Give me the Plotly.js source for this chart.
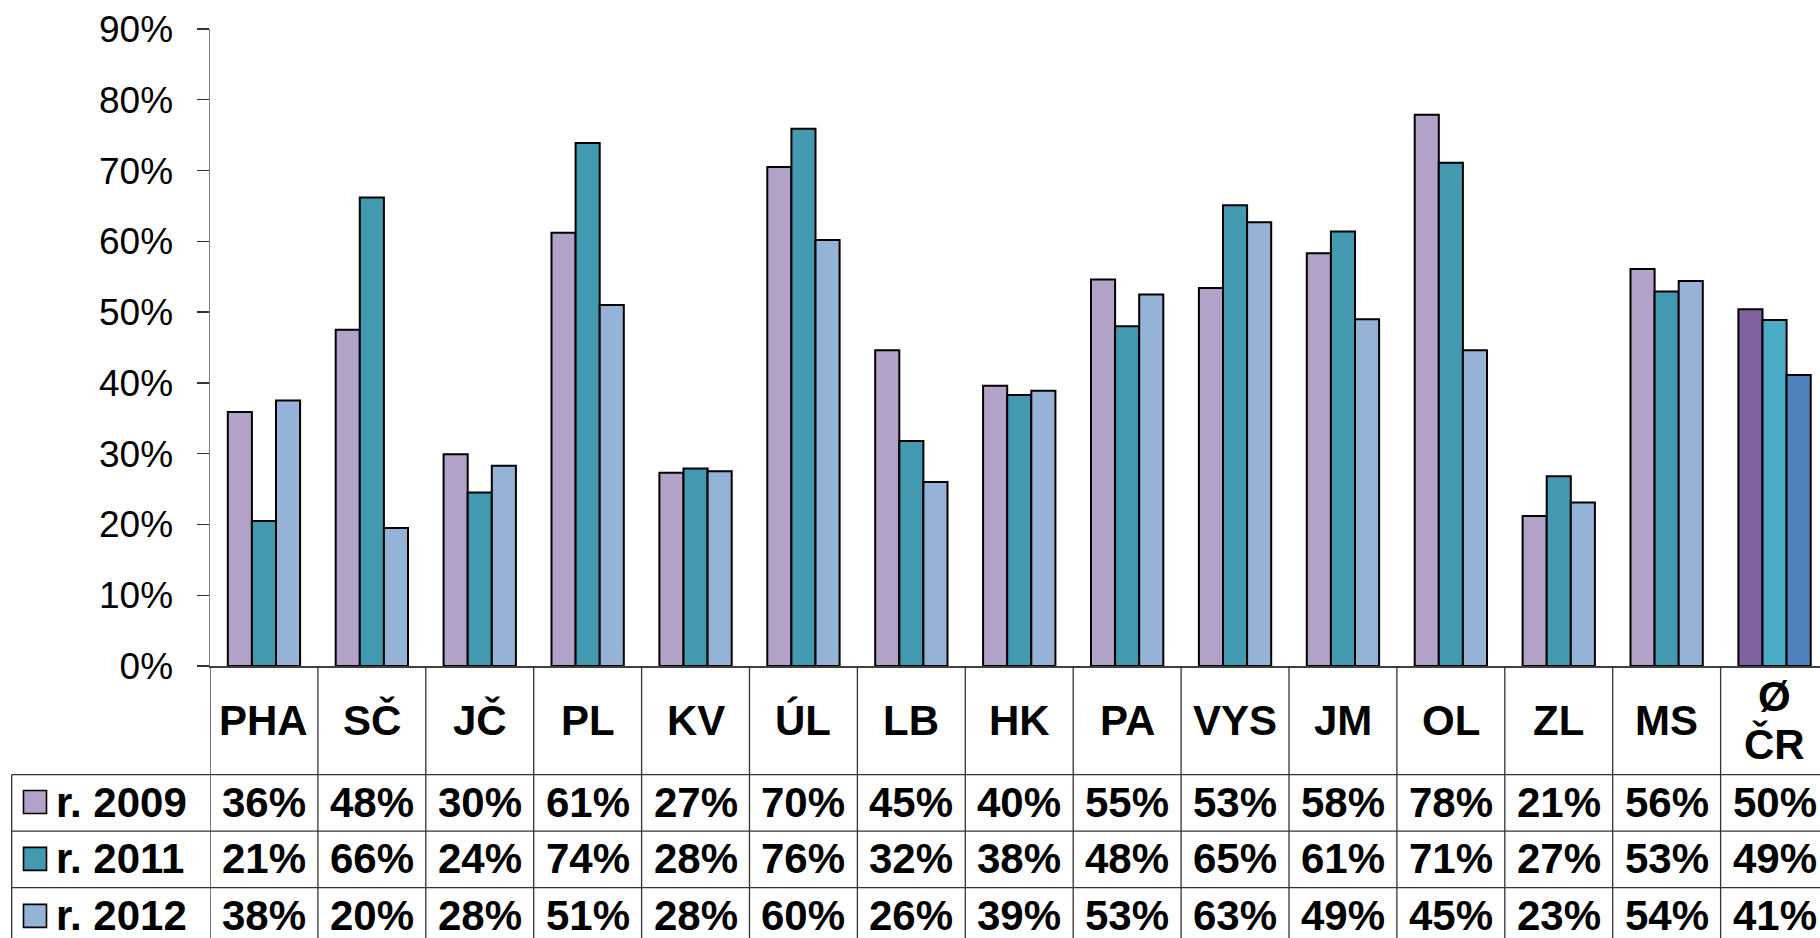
<!DOCTYPE html>
<html>
<head>
<meta charset="utf-8">
<script src="https://cdn.plot.ly/plotly-3.0.1.min.js"></script>
<style>
  html, body { margin: 0; padding: 0; background: #fff; overflow: hidden; }
  #chart { width: 1820px; height: 938px; }
</style>
</head>
<body>
<div id="chart"></div>
<script>
// ---- data ----
const categories = ["PHA", "SČ", "JČ", "PL", "KV", "ÚL", "LB", "HK", "PA", "VYS", "JM", "OL", "ZL", "MS", "Ø<br>ČR"];
const seriesNames = ["r. 2009", "r. 2011", "r. 2012"];
const values2009 = [35.9, 47.5, 29.9, 61.2, 27.3, 70.5, 44.6, 39.6, 54.6, 53.4, 58.3, 77.9, 21.2, 56.1, 50.4];
const values2011 = [20.5, 66.2, 24.5, 73.9, 27.9, 75.9, 31.8, 38.3, 48.0, 65.1, 61.4, 71.1, 26.8, 52.9, 48.9];
const values2012 = [37.5, 19.5, 28.3, 51.0, 27.5, 60.2, 26.0, 38.9, 52.5, 62.7, 49.0, 44.6, 23.1, 54.4, 41.1];
const labels2009 = ["36%", "48%", "30%", "61%", "27%", "70%", "45%", "40%", "55%", "53%", "58%", "78%", "21%", "56%", "50%"];
const labels2011 = ["21%", "66%", "24%", "74%", "28%", "76%", "32%", "38%", "48%", "65%", "61%", "71%", "27%", "53%", "49%"];
const labels2012 = ["38%", "20%", "28%", "51%", "28%", "60%", "26%", "39%", "53%", "63%", "49%", "45%", "23%", "54%", "41%"];

// ---- styles ----
const baseColors = ["#B3A2C7", "#4399B0", "#95B3D7"];
const avgColors  = ["#8064A2", "#4BACC6", "#4F81BD"];
const FONT = "Liberation Sans, Arial, Helvetica, sans-serif";

const seriesValues = [values2009, values2011, values2012];
const seriesLabels = [labels2009, labels2011, labels2012];
const n = categories.length;

const traces = seriesValues.map((vals, s) => ({
  type: "bar",
  name: seriesNames[s],
  x: categories,
  y: vals,
  marker: {
    color: vals.map((_, i) => i === n - 1 ? avgColors[s] : baseColors[s]),
    line: { color: "#000", width: 2 }
  },
  hoverinfo: "skip"
}));

// pixel helpers for the table area (plot area: x 210..1820, y 29..665.7)
const L = 210, W = 1610, T = 29, B = 665.7, H = B - T;
const px = v => (v - L) / W;
const py = v => (B - v) / H;

const lineStyle = { color: "#333", width: 1.3 };
const shapes = [];
const annotations = [];
const boldFont = { family: FONT, size: 42, color: "#000", weight: 700 };

// vertical dividers between categories (through header + rows)
for (let i = 0; i < n; i++) {
  shapes.push({ type: "line", xref: "x", yref: "paper", x0: i - 0.5, x1: i - 0.5, y0: 0, y1: py(945), line: lineStyle, layer: "above" });
}
// left border of row-label column
shapes.push({ type: "line", xref: "paper", yref: "paper", x0: px(11.7), x1: px(11.7), y0: py(774.3), y1: py(945), line: lineStyle });
// horizontal row lines
[774.3, 830.7, 887.3].forEach(yy => {
  shapes.push({ type: "line", xref: "paper", yref: "paper", x0: px(11.7), x1: 1.0, y0: py(yy), y1: py(yy), line: lineStyle });
});

// header labels (multi-line labels split into separate lines with tighter spacing)
categories.forEach((c, i) => {
  const parts = c.split("<br>");
  const spacing = 48;
  parts.forEach((p, k) => {
    const yc = 720 + (k - (parts.length - 1) / 2) * spacing;
    annotations.push({
      xref: "x", yref: "paper", x: i, y: py(yc), text: p, showarrow: false,
      xanchor: "center", yanchor: "middle", font: boldFont
    });
  });
});

// rows
const rowCenters = [801.7, 858.5, 915.5];
seriesLabels.forEach((labs, s) => {
  const yc = rowCenters[s];
  shapes.push({
    type: "rect", xref: "paper", yref: "paper",
    x0: px(23.5), x1: px(46.5), y0: py(yc + 11.5), y1: py(yc - 11.5),
    fillcolor: baseColors[s], line: { color: "#000", width: 1.6 }
  });
  annotations.push({
    xref: "paper", yref: "paper", x: px(54), y: py(yc), text: seriesNames[s], showarrow: false,
    xanchor: "left", yanchor: "middle", font: boldFont
  });
  labs.forEach((t, i) => {
    annotations.push({
      xref: "x", yref: "paper", x: i, y: py(yc), text: t, showarrow: false,
      xanchor: "center", yanchor: "middle", font: boldFont
    });
  });
});

const layout = {
  width: 1820, height: 938,
  margin: { l: L, r: 0, t: T, b: 938 - B, pad: 0 },
  paper_bgcolor: "#fff", plot_bgcolor: "#fff",
  barmode: "group", bargap: 0.33, bargroupgap: 0,
  showlegend: false,
  hovermode: false,
  xaxis: {
    type: "category",
    range: [-0.5, -0.5 + W / 107.9],
    showticklabels: false, ticks: "", showgrid: false, zeroline: false,
    showline: true, linecolor: "#404040", linewidth: 1.6
  },
  yaxis: {
    range: [0, 90], dtick: 10, tick0: 0,
    ticksuffix: "%",
    showgrid: false, zeroline: false,
    showline: true, linecolor: "#808080", linewidth: 1.5,
    ticks: "outside", ticklen: 12, tickwidth: 1.3, tickcolor: "#333",
    ticklabelstandoff: 16,
    tickfont: { family: FONT, size: 37, color: "#000" }
  },
  shapes: shapes,
  annotations: annotations
};

Plotly.newPlot("chart", traces, layout, { displayModeBar: false, staticPlot: true });
</script>
</body>
</html>
